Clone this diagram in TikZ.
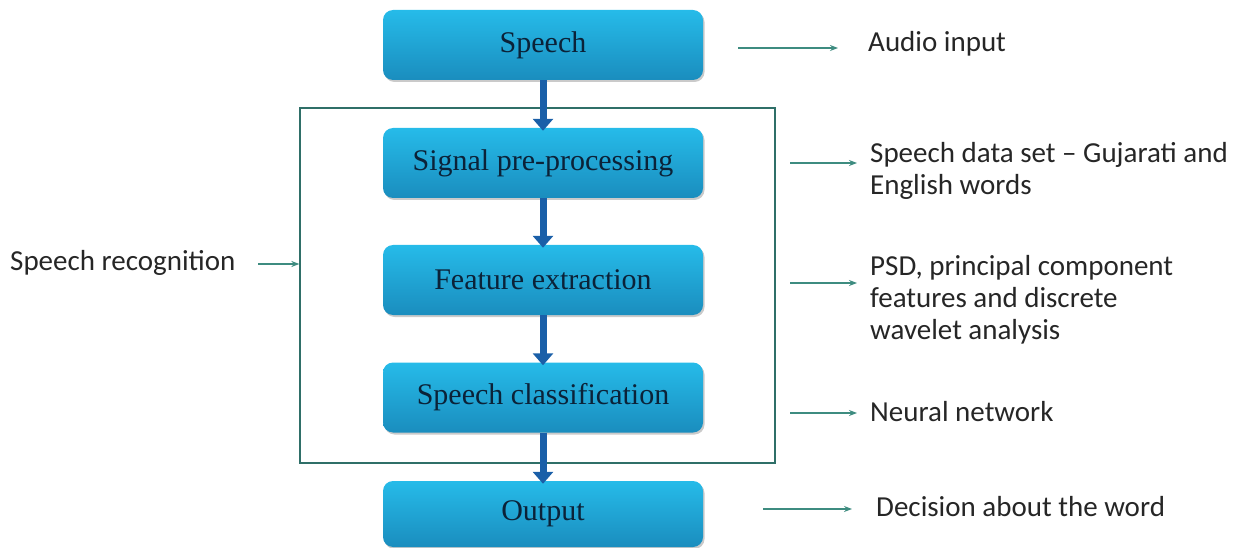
\documentclass[tikz,border=0pt]{standalone}
\usepackage{fontspec}
\setmainfont{Liberation Serif}
\newfontfamily\calib{Carlito}
\usetikzlibrary{arrows.meta,shadows}
\definecolor{boxtop}{HTML}{26BBE9}
\definecolor{boxbot}{HTML}{1A8DBE}
\definecolor{navy}{HTML}{0B2238}
\definecolor{flowblue}{HTML}{1A5FA8}
\definecolor{tealline}{HTML}{3E8C80}
\definecolor{framecol}{HTML}{2F6F68}
\tikzset{
  stage/.style={rounded corners=10pt, minimum width=320pt, minimum height=70pt,
    top color=boxtop, bottom color=boxbot, draw=none,
    drop shadow={shadow xshift=1.5pt, shadow yshift=-2pt, opacity=0.35, fill=black!60},
    text=navy, font=\fontsize{30}{32}\selectfont, inner sep=0pt},
  flow/.style={line width=7pt, draw=flowblue, -{Triangle[width=20pt,length=12pt]}, shorten >=-3pt},
  note/.style={anchor=west, align=left, font=\calib\fontsize{29}{32}\selectfont, text=black!85, inner sep=0pt},
  pointer/.style={draw=tealline, line width=1.3pt, -{Stealth[length=8pt,width=6pt]}}
}
\begin{document}
\begin{tikzpicture}[x=1pt,y=-1pt]
\useasboundingbox (0,0) rectangle (1248,548);
% frame
\node[draw=framecol, line width=1.3pt, minimum width=475pt, minimum height=355pt, inner sep=0pt] (frame) at (537.5,285.5) {};
% stages
\node[stage] (speech) at (543,45) {Speech};
\node[stage] (pre) at (543,163) {Signal pre-processing};
\node[stage] (feat) at (543,280) {Feature extraction};
\node[stage] (cls) at (543,397.5) {Speech classification};
\node[stage, minimum height=66pt] (out) at (543,514) {Output};
% flow arrows
\draw[flow] (speech.south) -- (pre.north);
\draw[flow] (pre.south) -- (feat.north);
\draw[flow] (feat.south) -- (cls.north);
\draw[flow] (cls.south) -- (out.north);
% notes
\node[note] (n1) at (868,44) {Audio input};
\node[note] (n2) at (870,171) {Speech data set \textendash{} Gujarati and\\English words};
\node[note] (n3) at (870,300) {PSD, principal component\\features and discrete\\wavelet analysis};
\node[note] (n4) at (870,412) {Neural network};
\node[note] (n5) at (876,507) {Decision about the word};
\node[note] (sr) at (10,263) {Speech recognition};
% pointers
\coordinate (a1) at (738,48);
\coordinate (a2) at (790,163);
\coordinate (a3) at (790,283);
\coordinate (a4) at (790,413);
\coordinate (a5) at (763,509);
\coordinate (a6) at (258,264);
\draw[pointer] (a1) -- (838,48);
\draw[pointer] (a2) -- (857,163);
\draw[pointer] (a3) -- (857,283);
\draw[pointer] (a4) -- (857,413);
\draw[pointer] (a5) -- (852,509);
\draw[pointer] (a6) -- (frame.west |- a6);
\end{tikzpicture}
\end{document}
